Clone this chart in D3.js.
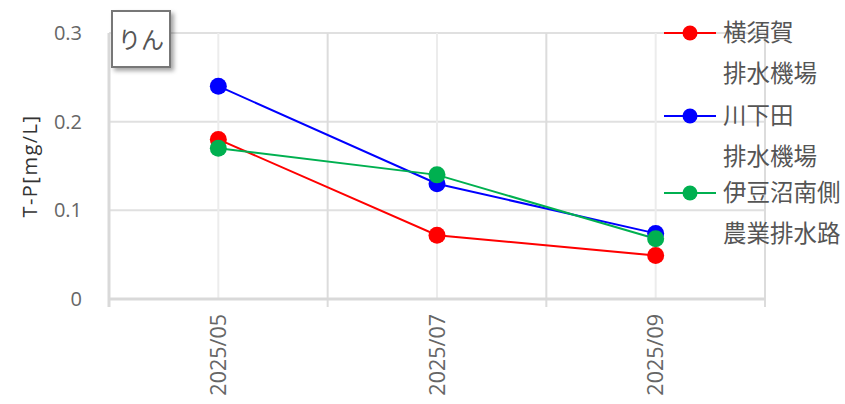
<!DOCTYPE html>
<html>
<head>
<meta charset="utf-8">
<script src="https://cdn.jsdelivr.net/npm/d3@7"></script>
<style>
  body { margin: 0; background: #fff; }
  text { font-family: "Open Sans", "Noto Sans CJK JP", sans-serif; }
</style>
</head>
<body>
<svg id="chart" width="845" height="404"></svg>
<script>
// data
const months = ["2025/05", "2025/07", "2025/09"];
const yTicks = [0, 0.1, 0.2, 0.3];
const seriesNames = [["横須賀", "排水機場"], ["川下田", "排水機場"], ["伊豆沼南側", "農業排水路"]];
const seriesColors = ["#ff0000", "#0000ff", "#00b050"];
const yokosuka = [0.18, 0.072, 0.049];
const shimoda = [0.24, 0.13, 0.074];
const izunuma = [0.17, 0.14, 0.068];
const allSeries = [yokosuka, shimoda, izunuma];

const svg = d3.select("#chart");
const margin = {left: 109, right: 80, top: 33, bottom: 105};
const W = 845, H = 404;

const x = d3.scaleBand().domain(months).range([margin.left, W - margin.right]);
const y = d3.scaleLinear().domain([0, 0.3]).range([H - margin.bottom, margin.top]);

// gridlines: band centers (light) and band edges (darker)
const g = svg.append("g");
g.selectAll(".hgrid").data(yTicks).enter().append("line")
  .attr("x1", margin.left).attr("x2", W - margin.right)
  .attr("y1", d => y(d)).attr("y2", d => y(d))
  .attr("stroke", "#e0e0e0").attr("stroke-width", 2);

g.selectAll(".vc").data(months).enter().append("line")
  .attr("x1", d => x(d) + x.bandwidth() / 2).attr("x2", d => x(d) + x.bandwidth() / 2)
  .attr("y1", y(0.3)).attr("y2", y(0))
  .attr("stroke", "#ececec").attr("stroke-width", 2);

const edges = months.map(d => x(d) + x.bandwidth()).slice(0, -1);
g.selectAll(".ve").data(edges).enter().append("line")
  .attr("x1", d => d).attr("x2", d => d)
  .attr("y1", y(0.3)).attr("y2", y(0) + 8)
  .attr("stroke", "#dcdcdc").attr("stroke-width", 2);
// right edge
g.append("line")
  .attr("x1", W - margin.right).attr("x2", W - margin.right)
  .attr("y1", y(0.3)).attr("y2", y(0) + 8)
  .attr("stroke", "#dcdcdc").attr("stroke-width", 2);

// axis lines
g.append("line").attr("x1", margin.left).attr("x2", margin.left)
  .attr("y1", y(0.3)).attr("y2", y(0) + 8)
  .attr("stroke", "#d9d9d9").attr("stroke-width", 3);
g.append("line").attr("x1", margin.left).attr("x2", W - margin.right)
  .attr("y1", y(0)).attr("y2", y(0))
  .attr("stroke", "#d9d9d9").attr("stroke-width", 3);

// y tick labels
svg.selectAll(".ylab").data(yTicks).enter().append("text")
  .attr("x", 82).attr("y", d => y(d)).attr("dy", "0.35em")
  .attr("text-anchor", "end").attr("font-size", 20).attr("fill", "#666")
  .text(d => d === 0 ? "0" : d3.format(".1f")(d));

// x tick labels (rotated)
svg.selectAll(".xlab").data(months).enter().append("text")
  .attr("transform", d => `translate(${x(d) + x.bandwidth() / 2},314) rotate(-90)`)
  .attr("text-anchor", "end").attr("dy", "0.35em")
  .attr("font-size", 21.5).attr("fill", "#666")
  .text(d => d);

// y axis title
svg.append("text")
  .attr("transform", `translate(30,${(y(0) + y(0.3)) / 2}) rotate(-90)`)
  .attr("text-anchor", "middle").attr("dy", "0.35em")
  .attr("font-size", 20).attr("letter-spacing", 1.5).attr("fill", "#333")
  .text("T-P[mg/L]");

// series
const line = d3.line().x((d, i) => x(months[i]) + x.bandwidth() / 2).y(d => y(d));
allSeries.forEach(function(s, k) {
  svg.append("path").datum(s)
    .attr("d", line).attr("fill", "none")
    .attr("stroke", seriesColors[k]).attr("stroke-width", 2);
});
allSeries.forEach(function(s, k) {
  svg.selectAll(".pt" + k).data(s).enter().append("circle")
    .attr("cx", (d, i) => x(months[i]) + x.bandwidth() / 2)
    .attr("cy", d => y(d)).attr("r", 8.5)
    .attr("fill", seriesColors[k]);
});

// legend
const legendY = [33, 116, 193];
seriesNames.forEach(function(n, k) {
  const ly = legendY[k];
  svg.append("line").attr("x1", 664).attr("x2", 716).attr("y1", ly).attr("y2", ly)
    .attr("stroke", seriesColors[k]).attr("stroke-width", 2);
  svg.append("circle").attr("cx", 690).attr("cy", ly).attr("r", 7.5).attr("fill", seriesColors[k]);
  svg.append("text").attr("x", 723).attr("y", ly).attr("dy", "0.35em")
    .attr("font-size", 23.5).attr("fill", "#555").text(n[0]);
  svg.append("text").attr("x", 723).attr("y", ly + 41).attr("dy", "0.35em")
    .attr("font-size", 23.5).attr("fill", "#555").text(n[1]);
});

// title box
const defs = svg.append("defs");
const f = defs.append("filter").attr("id", "sh").attr("x", "-20%").attr("y", "-20%").attr("width", "160%").attr("height", "160%");
f.append("feDropShadow").attr("dx", 3).attr("dy", 3).attr("stdDeviation", 2).attr("flood-color", "#000").attr("flood-opacity", 0.35);
svg.append("rect").attr("x", 112).attr("y", 11).attr("width", 58).attr("height", 56)
  .attr("fill", "#fff").attr("stroke", "#777").attr("stroke-width", 2)
  .attr("filter", "url(#sh)");
svg.append("text").attr("x", 141).attr("y", 40).attr("dy", "0.35em")
  .attr("text-anchor", "middle").attr("font-size", 23).attr("fill", "#555").text("りん");
</script>
</body>
</html>
